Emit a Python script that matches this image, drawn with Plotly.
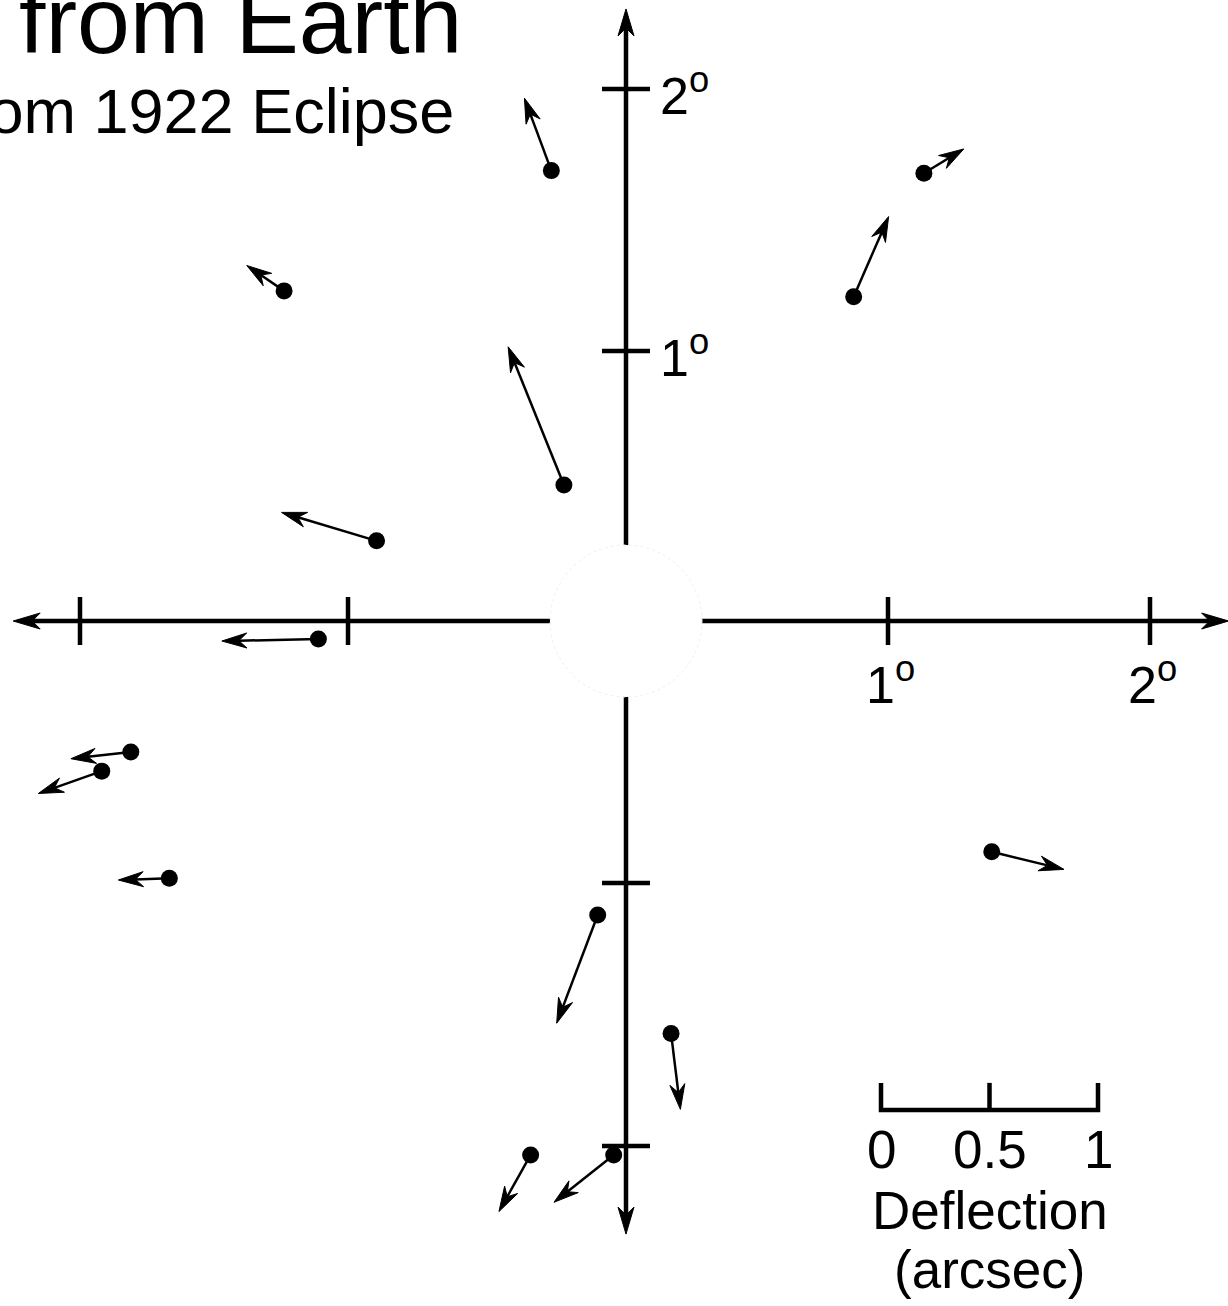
import numpy as np
import plotly.graph_objects as go

# ---------------- data ----------------
# star positions, degrees from the centre of the Sun (x = east/west, y = north/south)
star_x = [-0.285, -1.305, -0.237, -0.952, -1.174, -1.890, -2.001, -1.743,
          1.137, 0.869, 1.396, -0.108, 0.172, -0.364, -0.047]
star_y = [1.719, 1.260, 0.519, 0.306, -0.069, -0.500, -0.573, -0.982,
          1.709, 1.238, -0.881, -1.122, -1.574, -2.038, -2.038]
# measured deflection of each star (arcsec)
defl_x = [-0.124, -0.172, -0.257, -0.438, -0.445, -0.276, -0.292, -0.235,
          0.184, 0.161, 0.333, -0.189, 0.043, -0.146, -0.275]
defl_y = [0.334, 0.117, 0.637, 0.131, -0.009, -0.031, -0.103, -0.008,
          0.112, 0.369, -0.081, -0.499, -0.350, -0.261, -0.218]

# axis ticks (degrees) and labels
tick_x = [-2.084, -1.061, 1.0, 2.0]
tick_y = [2.031, 1.031, -1.0, -2.004]
label_x_vals = [1.0, 2.0]
label_y_vals = [1.031, 2.031]
label_x_text = ["1<sup>o</sup>", "2<sup>o</sup>"]
label_y_text = ["1<sup>o</sup>", "2<sup>o</sup>"]
axis_left, axis_right, axis_top, axis_bottom = -2.339, 2.30, 2.336, -2.340

# deflection scale bar (arcsec)
scale_vals = [0, 0.5, 1]
scale_text = ["0", "0.5", "1"]

SUN_RADIUS = 0.29            # degrees
ARCSEC_TO_DEG = 217 / 262    # drawing exaggeration of deflection arrows

title_text = "from Earth"
subtitle_text = "from 1922 Eclipse"

# ---------------- geometry helpers ----------------
PX = 1 / 262.0  # one screen pixel in degrees (1:1 aspect)
W, H = 1228, 1306
x_range = [-626 * PX, (W - 626) * PX]
y_range = [-(H - 621) * PX, 621 * PX]
FONT = "Liberation Sans, Arial, Helvetica, sans-serif"


def head(tx, ty, ux, uy, L, Wd, N):
    nx, ny = -uy, ux
    xs = [tx, tx - L * ux + Wd * nx, tx - N * ux, tx - L * ux - Wd * nx, tx, None]
    ys = [ty, ty - L * uy + Wd * ny, ty - N * uy, ty - L * uy - Wd * ny, ty, None]
    return xs, ys


fig = go.Figure()

# ---- axes with arrows ----
ax_lx, ax_ly, ah_x, ah_y = [], [], [], []
AL, AW, AN = 27 * PX, 8 * PX, 19 * PX
for (x0, y0, x1, y1) in [(0, 0, axis_left, 0), (0, 0, axis_right, 0),
                         (0, 0, 0, axis_top), (0, 0, 0, axis_bottom)]:
    d = np.hypot(x1 - x0, y1 - y0)
    ux, uy = (x1 - x0) / d, (y1 - y0) / d
    ax_lx += [x0, x1 - AN * ux, None]
    ax_ly += [y0, y1 - AN * uy, None]
    hx, hy = head(x1, y1, ux, uy, AL, AW, AN)
    ah_x += hx
    ah_y += hy
TK = 24 * PX
for t in tick_x:
    ax_lx += [t, t, None]
    ax_ly += [-TK, TK, None]
for t in tick_y:
    ax_lx += [-TK, TK, None]
    ax_ly += [t, t, None]

fig.add_trace(go.Scatter(x=ax_lx, y=ax_ly, mode="lines",
                         line=dict(color="black", width=4.5), hoverinfo="skip"))
fig.add_trace(go.Scatter(x=ah_x, y=ah_y, mode="lines", fill="toself",
                         fillcolor="black", line=dict(color="black", width=1),
                         hoverinfo="skip"))

# ---- deflection arrows ----
sx, sy, hxs, hys = [], [], [], []
HL, HW, HN = 25 * PX, 7.5 * PX, 17 * PX
for x, y, dx, dy in zip(star_x, star_y, defl_x, defl_y):
    tx, ty = x + dx * ARCSEC_TO_DEG, y + dy * ARCSEC_TO_DEG
    d = np.hypot(tx - x, ty - y)
    ux, uy = (tx - x) / d, (ty - y) / d
    sx += [x, tx - HN * ux, None]
    sy += [y, ty - HN * uy, None]
    hx, hy = head(tx, ty, ux, uy, HL, HW, HN)
    hxs += hx
    hys += hy
fig.add_trace(go.Scatter(x=sx, y=sy, mode="lines",
                         line=dict(color="black", width=2.5), hoverinfo="skip"))
fig.add_trace(go.Scatter(x=hxs, y=hys, mode="lines", fill="toself",
                         fillcolor="black", line=dict(color="black", width=1),
                         hoverinfo="skip"))
fig.add_trace(go.Scatter(x=star_x, y=star_y, mode="markers",
                         marker=dict(color="black", size=17), hoverinfo="skip"))

# ---- scale bar ----
bar_x0, bar_y0 = 0.9733, -1.866
bar_tick = 27 * PX
bx = [bar_x0 + v * ARCSEC_TO_DEG for v in scale_vals]
fig.add_trace(go.Scatter(
    x=[bx[0], bx[0], bx[-1], bx[-1], None, bx[1], bx[1]],
    y=[bar_y0 + bar_tick, bar_y0, bar_y0, bar_y0 + bar_tick, None, bar_y0, bar_y0 + bar_tick],
    mode="lines", line=dict(color="black", width=4.5), hoverinfo="skip"))

ann = []
for xv, t in zip(bx, scale_text):
    ann.append(dict(x=xv, y=bar_y0, xref="x", yref="y", text=t, showarrow=False,
                    xanchor="center", yanchor="middle", yshift=-40,
                    font=dict(size=53, family=FONT, color="black")))
ann.append(dict(x=(bx[0] + bx[-1]) / 2, y=bar_y0, xref="x", yref="y", text="Deflection",
                showarrow=False, xanchor="center", yanchor="middle", yshift=-101,
                font=dict(size=53, family=FONT, color="black")))
ann.append(dict(x=(bx[0] + bx[-1]) / 2, y=bar_y0, xref="x", yref="y", text="(arcsec)",
                showarrow=False, xanchor="center", yanchor="middle", yshift=-160,
                font=dict(size=53, family=FONT, color="black")))

# ---- axis labels ----
for v, t in zip(label_x_vals, label_x_text):
    ann.append(dict(x=v, y=0, xref="x", yref="y", text=t, showarrow=False,
                    xanchor="center", yanchor="middle", yshift=-60, xshift=2,
                    font=dict(size=52, family=FONT, color="black")))
for v, t in zip(label_y_vals, label_y_text):
    ann.append(dict(x=0, y=v, xref="x", yref="y", text=t, showarrow=False,
                    xanchor="left", yanchor="middle", xshift=32, yshift=-3,
                    font=dict(size=52, family=FONT, color="black")))

# ---- titles ----
ann.append(dict(x=463 / W, y=1 + 34 / H, xref="paper", yref="paper", text=title_text,
                showarrow=False, xanchor="right", yanchor="top", borderpad=0,
                font=dict(size=95, family=FONT, color="black")))
ann.append(dict(x=455 / W, y=1 - 75 / H, xref="paper", yref="paper", text=subtitle_text,
                showarrow=False, xanchor="right", yanchor="top", borderpad=0,
                font=dict(size=63, family=FONT, color="black")))

# ---- Sun ----
shapes = [dict(type="circle", xref="x", yref="y",
               x0=-SUN_RADIUS, x1=SUN_RADIUS, y0=-SUN_RADIUS, y1=SUN_RADIUS,
               fillcolor="white", line=dict(color="#f0f0f0", width=1, dash="dot"),
               layer="above")]

fig.update_layout(
    width=W, height=H, margin=dict(l=0, r=0, t=0, b=0),
    paper_bgcolor="white", plot_bgcolor="white", showlegend=False,
    xaxis=dict(range=x_range, visible=False, fixedrange=True),
    yaxis=dict(range=y_range, visible=False, fixedrange=True),
    annotations=ann, shapes=shapes,
)

fig.write_html("out.html", config={"displayModeBar": False},
               post_script="document.body.style.margin='0';")
